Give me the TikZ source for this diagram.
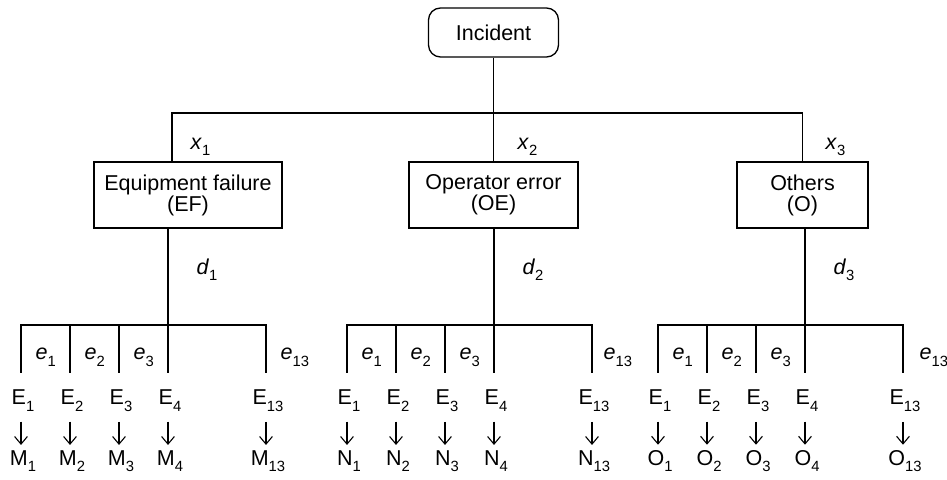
\documentclass[tikz,border=0pt]{standalone}
\usepackage{fontspec}
\setmainfont{Liberation Sans}
\usetikzlibrary{arrows.meta,positioning}
\newcommand{\low}[1]{\raisebox{-3pt}{\fontsize{7.4}{7.4}\selectfont #1}}

\begin{document}
\begin{tikzpicture}[x=0.5pt,y=-0.5pt,
font=\fontsize{10.75}{10.5}\selectfont,
line width=0.65pt,
top/.style={
rectangle,
draw,
rounded corners=6pt,
minimum width=65pt,
minimum height=24.5pt
},
cause/.style={
rectangle,
draw,
align=center,
minimum height=33pt
},
lbl/.style={inner sep=0pt},
to/.style={-{Straight Barb[length=3.8pt,width=6.4pt]},line width=0.55pt,shorten <=5pt,shorten >=2.3pt},]

\useasboundingbox (0,0) rectangle (947,480);

\node (incident) [top] at (493.5,32.5) {Incident};
\node (ef) [cause,minimum width=94pt] at (188,195) {Equipment failure\\(EF)};
\node (oe) [cause,minimum width=84.5pt] at (493.5,195) {Operator error\\(OE)};
\node (others) [cause,minimum width=65.5pt] at (802.5,195) {Others\\(O)};

\coordinate (split) at (493.5,113);
\draw (incident) -- (split);
\draw (split) -| ([xshift=-8pt]ef.north);
\draw (split) -- (oe.north);
\draw (split) -| (others.north);
\node [lbl,anchor=base west] at (190,150) {\textit{x}\low{1}};
\node [lbl,anchor=base west] at (517,150) {\textit{x}\low{2}};
\node [lbl,anchor=base west] at (825,150) {\textit{x}\low{3}};

% one group of outcomes per cause
\foreach \g/\b/\r/\n/\s in {ef/21/M/1/14,oe/347/N/2/11,others/658/O/3/16} {
  \coordinate (\g-bar) at (\b+147,325);
  \draw (\g.south -| \g-bar) -- (\g-bar);
  \node [lbl,anchor=base west] at (\b+147+28,275) {\textit{d}\low{\n}};
  \draw (\b,373) -- (\b,325) -- (\b+245,325) -- (\b+245,373);
  \foreach \k in {49,98,147}
    \draw (\b+\k,325) -- (\b+\k,373);
  \foreach \i/\k in {1/0,2/49,3/98}
    \node [lbl,anchor=base west] at (\b+\k+14,360) {\textit{e}\low{\i}};
  \node [lbl,anchor=base west] at (\b+245+\s,360) {\textit{e}\low{13}};
  \foreach \i/\k in {1/0,2/49,3/98,4/147,13/245} {
    \node (\g-E\i) [lbl,anchor=base] at (\b+\k+2,405) {E\low{\i}};
    \node (\g-R\i) [lbl,anchor=base] at (\b+\k+2,465) {\r\low{\i}};
    \draw[to] (\g-E\i.south -| \b+\k,0) -- (\g-R\i.north -| \b+\k,0);
  }
}
\end{tikzpicture}
\end{document}
